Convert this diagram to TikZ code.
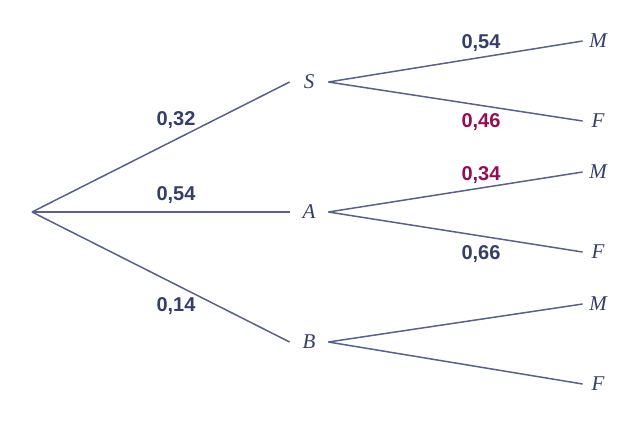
\documentclass[tikz,border=0pt]{standalone}
\usepackage{fontspec}
\setmainfont{Liberation Serif}
\setsansfont{Liberation Sans}
\usepackage{tikz}
\usetikzlibrary{positioning}

\definecolor{branch}{RGB}{88,96,142}
\definecolor{probtxt}{RGB}{52,62,104}
\definecolor{probred}{RGB}{148,12,86}

\begin{document}
\begin{tikzpicture}[
		x=0.5pt, y=-0.5pt,
		branchline/.style={draw=branch, line width=0.75pt},
		event/.style={
				inner sep=0pt,
				minimum width=19pt,
				font=\itshape\fontsize{10.5}{12}\selectfont,
				text=probtxt
			},
		leaf/.style={
				event,
				minimum width=15pt
			},
		prob/.style={
				font=\sffamily\bfseries\fontsize{10}{12}\selectfont,
				text=probtxt,
				inner sep=0pt
			}
	]
	\useasboundingbox (0,0) rectangle (630,429);

	\coordinate (root) at (32,212);

	% first level
	\node[event] (S) at (309,82) {S};
	\node[event] (A) at (309,212) {A};
	\node[event] (B) at (309,342) {B};

	% second level
	\node[leaf] (SM) at (598,41) {M};
	\node[leaf] (SF) at (598,121) {F};
	\node[leaf] (AM) at (598,172) {M};
	\node[leaf] (AF) at (598,252) {F};
	\node[leaf] (BM) at (598,304) {M};
	\node[leaf] (BF) at (598,384) {F};

	\draw[branchline] (root) -- (S.west);
	\draw[branchline] (root) -- (A.west);
	\draw[branchline] (root) -- (B.west);

	\draw[branchline] (S.east) -- (SM.west);
	\draw[branchline] (S.east) -- (SF.west);
	\draw[branchline] (A.east) -- (AM.west);
	\draw[branchline] (A.east) -- (AF.west);
	\draw[branchline] (B.east) -- (BM.west);
	\draw[branchline] (B.east) -- (BF.west);

	% probabilities
	\node[prob] (pS) at (176,120) {0,32};
	\node[prob] (pA) at (176,195) {0,54};
	\node[prob] (pB) at (176,306) {0,14};

	\node[prob] (pSM) at (481,43) {0,54};
	\node[prob, text=probred] (pSF) at (481,122) {0,46};
	\node[prob, text=probred] (pAM) at (481,175) {0,34};
	\node[prob] (pAF) at (481,254) {0,66};
\end{tikzpicture}
\end{document}
